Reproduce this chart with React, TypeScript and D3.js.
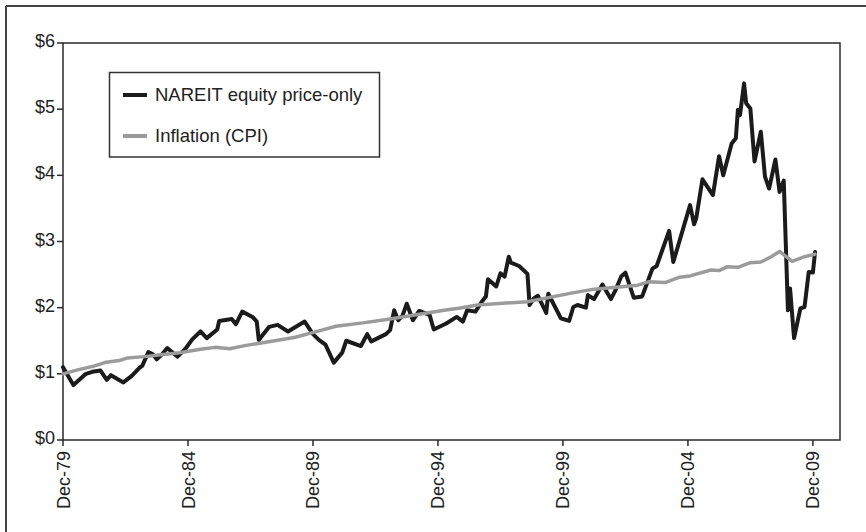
import React from "react";
import * as d3 from "d3";

const W = 866;
const H = 532;

// NAREIT equity price-only index (growth of $1 from Dec-79)
const nareitDates = [
  "1979-12","1980-05","1980-11","1981-02","1981-06","1981-09","1981-11","1982-05","1982-09","1983-01",
  "1983-02","1983-05","1983-07","1983-09","1983-12","1984-02","1984-07","1984-11","1985-02","1985-06",
  "1985-09","1986-02","1986-03","1986-09","1986-11","1987-02","1987-07","1987-09","1987-10","1988-03",
  "1988-07","1988-12","1989-08","1989-12","1990-03","1990-06","1990-10","1991-02","1991-04","1991-11",
  "1992-02","1992-04","1992-11","1993-01","1993-03","1993-05","1993-07","1993-09","1993-12","1994-03",
  "1994-08","1994-10","1995-04","1995-09","1995-12","1996-02","1996-06","1996-09","1996-11","1996-12",
  "1997-04","1997-06","1997-08","1997-10","1997-11","1998-03","1998-07","1998-08","1998-10","1998-12",
  "1999-04","1999-05","1999-11","2000-03","2000-05","2000-07","2000-11","2000-12","2001-03","2001-07",
  "2001-11","2002-01","2002-04","2002-06","2002-10","2003-02","2003-07","2003-09","2004-03","2004-05",
  "2005-01","2005-03","2005-04","2005-07","2005-12","2006-03","2006-05","2006-09","2006-11","2006-12",
  "2007-01","2007-03","2007-04","2007-06","2007-08","2007-11","2008-01","2008-03","2008-06","2008-08",
  "2008-10","2008-12","2009-01","2009-03","2009-06","2009-08","2009-10","2009-12","2010-01",
];
const nareitValues = [
  1.10,0.83,1.00,1.03,1.05,0.91,0.98,0.87,0.97,1.10,
  1.12,1.33,1.30,1.22,1.31,1.39,1.26,1.39,1.52,1.64,
  1.54,1.67,1.80,1.83,1.75,1.94,1.86,1.79,1.51,1.71,
  1.74,1.64,1.79,1.60,1.51,1.44,1.17,1.32,1.50,1.42,
  1.60,1.49,1.60,1.66,1.96,1.81,1.88,2.06,1.81,1.95,
  1.89,1.67,1.76,1.86,1.79,1.96,1.94,2.09,2.17,2.43,
  2.32,2.52,2.47,2.77,2.68,2.63,2.51,2.04,2.14,2.18,
  1.92,2.21,1.84,1.80,2.01,2.04,2.00,2.19,2.13,2.35,
  2.13,2.25,2.47,2.53,2.15,2.17,2.59,2.63,3.16,2.69,
  3.55,3.26,3.35,3.94,3.70,4.29,4.00,4.48,4.56,4.99,
  4.91,5.39,5.09,5.01,4.21,4.66,3.98,3.80,4.24,3.75,
  3.92,1.96,2.29,1.54,1.99,2.01,2.54,2.53,2.84,
];

// Inflation (CPI), growth of $1 from Dec-79
const cpiDates = [
  "1979-12","1980-07","1981-02","1981-08","1982-03","1982-07","1983-03","1983-11","1984-08","1985-06",
  "1986-01","1986-08","1987-04","1988-02","1989-03","1990-03","1990-11","1991-12","1993-01","1994-03",
  "1995-03","1995-10","1996-07","1998-07","2000-04","2001-03","2002-12","2003-05","2004-01","2004-08",
  "2005-01","2005-11","2006-03","2006-07","2006-12","2007-06","2007-11","2008-04","2008-08","2009-02",
  "2009-08","2010-01",
];
const cpiValues = [
  1.00,1.06,1.11,1.17,1.20,1.24,1.26,1.29,1.32,1.37,
  1.40,1.38,1.43,1.48,1.55,1.65,1.72,1.77,1.83,1.90,
  1.96,1.99,2.04,2.09,2.22,2.28,2.34,2.39,2.38,2.46,
  2.48,2.57,2.56,2.62,2.61,2.68,2.69,2.77,2.85,2.70,
  2.77,2.81,
];

const yTicks = [0, 1, 2, 3, 4, 5, 6];
const xTickDates = ["1979-12", "1984-12", "1989-12", "1994-12", "1999-12", "2004-12", "2009-12"];
const xTickLabels = ["Dec-79", "Dec-84", "Dec-89", "Dec-94", "Dec-99", "Dec-04", "Dec-09"];
const xDomain = ["1979-12", "2011-01"];

const seriesNames = ["NAREIT equity price-only", "Inflation (CPI)"];

const parse = d3.timeParse("%Y-%m");

export default function App() {
  const left = 63, right = 840, top = 43, bottom = 440;
  const x = d3.scaleTime()
    .domain([parse(xDomain[0]) as Date, parse(xDomain[1]) as Date])
    .range([left, right]);
  const y = d3.scaleLinear().domain([0, 6]).range([bottom, top]);

  const nareit = nareitDates.map((d, i) => ({ d: parse(d) as Date, v: nareitValues[i] }));
  const cpi = cpiDates.map((d, i) => ({ d: parse(d) as Date, v: cpiValues[i] }));
  const line = d3.line<{ d: Date; v: number }>().x((p) => x(p.d)).y((p) => y(p.v));

  const font = "'Liberation Sans', Arial, Helvetica, sans-serif";
  const black = "#1b1b1b";
  const grey = "#9b9b9b";

  return (
    <svg
      width={W}
      height={H}
      style={{ position: "absolute", left: 0, top: 0, background: "#fff" }}
      fontFamily={font}
    >
      <rect x={0} y={0} width={W} height={H} fill="#fff" />
      {/* outer frame (left & top) */}
      <line x1={6} y1={6} x2={6} y2={H} stroke="#444" strokeWidth={2} />
      <line x1={6} y1={6} x2={W} y2={6} stroke="#444" strokeWidth={2} />

      {/* plot frame */}
      <rect x={left} y={top} width={right - left} height={bottom - top} fill="none" stroke="#2a2a2a" strokeWidth={1.5} />

      {/* y axis ticks & labels */}
      {yTicks.map((t) => (
        <g key={"y" + t}>
          <line x1={left - 6} x2={left} y1={y(t)} y2={y(t)} stroke="#2a2a2a" strokeWidth={1.5} />
          <text x={left - 8} y={y(t) + 4} textAnchor="end" fontSize={18} fill="#222">
            {"$" + d3.format("d")(t)}
          </text>
        </g>
      ))}

      {/* x axis ticks & labels */}
      {xTickDates.map((d, i) => {
        const px = x(parse(d) as Date);
        return (
          <g key={"x" + d}>
            <line x1={px} x2={px} y1={bottom} y2={bottom + 6} stroke="#2a2a2a" strokeWidth={1.5} />
            <text
              transform={`translate(${px + 6.5},${bottom + 11}) rotate(-90)`}
              textAnchor="end"
              fontSize={18}
              fill="#222"
            >
              {xTickLabels[i]}
            </text>
          </g>
        );
      })}

      {/* series */}
      <path d={line(nareit) || ""} fill="none" stroke={black} strokeWidth={4} strokeLinejoin="round" strokeLinecap="round" />
      <path d={line(cpi) || ""} fill="none" stroke={grey} strokeWidth={3.5} strokeLinejoin="round" strokeLinecap="round" />

      {/* legend */}
      <g>
        <rect x={109.5} y={72.5} width={270} height={84.5} fill="#fff" stroke="#333" strokeWidth={1.5} />
        <line x1={123} x2={147} y1={95} y2={95} stroke={black} strokeWidth={4} />
        <text x={155} y={101} fontSize={18.5} fill="#222">{seriesNames[0]}</text>
        <line x1={123} x2={147} y1={136} y2={136} stroke={grey} strokeWidth={4} />
        <text x={155} y={142} fontSize={18.5} fill="#222">{seriesNames[1]}</text>
      </g>
    </svg>
  );
}
